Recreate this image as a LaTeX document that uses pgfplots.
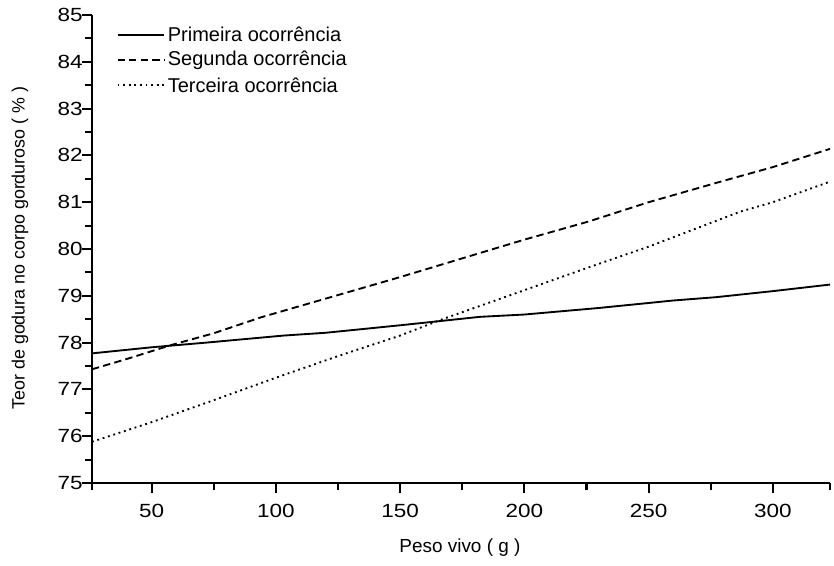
\documentclass[border=0pt]{standalone}
\usepackage{pgfplots}
\pgfplotsset{compat=1.18}
\usepackage{fontspec}
\setmainfont{Liberation Sans}
\newfontfamily\tickfont{Liberation Sans}[FakeStretch=1.18]
\begin{document}
\begin{tikzpicture}
\begin{axis}[
  width=553.5pt, height=351pt,
  scale only axis,
  xmin=26, xmax=323, ymin=75, ymax=85,
  axis lines*=left,
  axis line style={line width=1.8pt},
  xtick={50,100,...,300},
  minor xtick={26,75,125,175,225,275,323},
  ytick={75,76,...,85},
  minor ytick={75.5,76.5,...,84.5},
  tick align=outside,
  major tick length=7.5pt,
  minor tick length=5pt,
  every tick/.style={line width=1.6pt, black},
  tick label style={font=\tickfont\fontsize{14.3}{16}\selectfont},
  /pgf/number format/assume math mode=true,
  yticklabel style={xshift=4pt},
  xticklabel style={yshift=-5pt},
  xlabel={Peso vivo ( g )},
  ylabel={Teor de godura no corpo gorduroso ( \% )},
  xlabel style={font=\fontsize{14.2}{16}\selectfont, at={(axis description cs:0.4986,-0.139)}, anchor=center},
  ylabel style={font=\fontsize{13.4}{15}\selectfont, at={(axis description cs:-0.0976,0.502)}, anchor=center},
  legend style={draw=none, fill=none, at={(axis description cs:0.033,0.98)}, anchor=north west,
    font=\fontsize{15}{17.5}\selectfont, row sep=2.3pt, inner sep=0pt,
    nodes={inner sep=2pt, text depth=}},
  legend cell align=left,
  legend image code/.code={\draw[#1] (0cm,0cm) -- (35pt,0cm);},
]
\addplot[black, line width=1.4pt] coordinates {
(26,77.77) (50,77.9) (72,78.0) (103,78.15) (120,78.21) (150,78.37) (182,78.55) (200,78.6) (230,78.74) (260,78.9) (277,78.97) (300,79.1) (323,79.24)};
\addlegendentry{Primeira ocorrência}
\addplot[black, line width=1.4pt, dash pattern=on 5.5pt off 3.2pt] coordinates {
(26,77.43) (40,77.65) (58,77.95) (75,78.2) (94,78.54) (122,78.97) (150,79.4) (165,79.64) (200,80.2) (226,80.59) (250,81.0) (281,81.47) (300,81.75) (323,82.14)};
\addlegendentry{Segunda ocorrência}
\addplot[black, line width=1.4pt, dash pattern=on 1.4pt off 2.8pt] coordinates {
(26,75.88) (50,76.3) (75,76.77) (100,77.25) (126,77.73) (150,78.15) (166,78.48) (200,79.12) (226,79.61) (250,80.05) (287,80.8) (300,81.0) (323,81.44)};
\addlegendentry{Terceira ocorrência}
\end{axis}
\pgfresetboundingbox
\path[use as bounding box] ([shift={(-69pt,-61.5pt)}]current axis.south west) rectangle ([shift={(3pt,11.25pt)}]current axis.north east);
\end{tikzpicture}
\end{document}
